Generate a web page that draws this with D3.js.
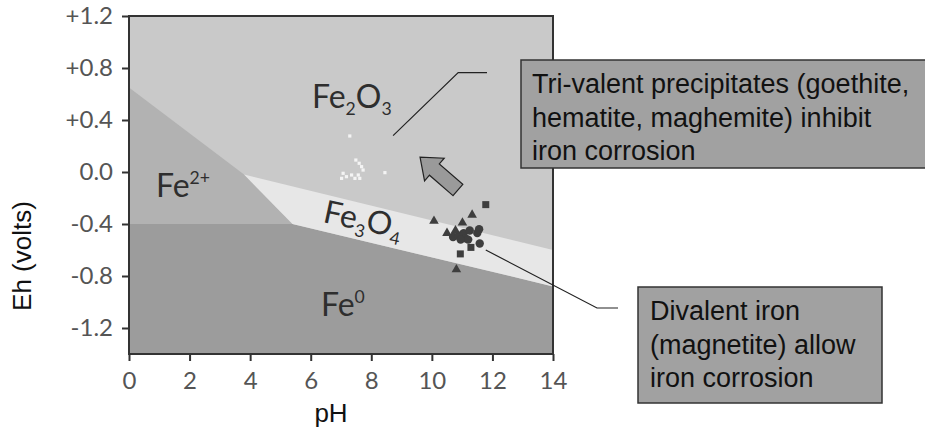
<!DOCTYPE html>
<html><head><meta charset="utf-8">
<script src="https://cdn.jsdelivr.net/npm/d3@7"></script>
<style>html,body{margin:0;padding:0;background:#fff;}svg{display:block;}</style>
</head><body>
<svg id="c" width="925" height="443"></svg>
<script>
// ---- data ----
const phTicks = [0, 2, 4, 6, 8, 10, 12, 14];
const ehTicks = [1.2, 0.8, 0.4, 0.0, -0.4, -0.8, -1.2];
const ehTickLabels = ["+1.2", "+0.8", "+0.4", "0.0", "-0.4", "-0.8", "-1.2"];

// stability field boundaries [pH, Eh]
const fe2plusField = [[0, 0.65], [3.8, -0.02], [5.4, -0.4], [0, -0.4]];
const fe0Field = [[0, -0.4], [5.4, -0.4], [14, -0.88], [14, -1.4], [0, -1.4]];
const fe3o4Field = [[3.8, -0.02], [14, -0.6], [14, -0.88], [5.4, -0.4]];

// measured points
const whitePH = [7.29, 7.49, 7.60, 7.68, 7.73, 7.07, 7.18, 7.35, 7.46, 7.57, 7.62, 7.02, 8.45];
const whiteEh = [0.277, 0.092, 0.067, 0.041, 0.015, -0.01, -0.036, -0.023, -0.049, -0.023, -0.049, -0.049, -0.005];
const triPH = [10.07, 11.33, 11.01, 10.50, 10.81, 10.78];
const triEh = [-0.377, -0.33, -0.39, -0.47, -0.75, -0.45];
const sqPH = [11.78, 11.29, 10.94];
const sqEh = [-0.251, -0.58, -0.63];
const circPH = [11.56, 11.58, 11.50, 10.70, 10.88, 11.05, 11.10, 11.20, 10.95, 11.25];
const circEh = [-0.44, -0.55, -0.47, -0.50, -0.49, -0.47, -0.51, -0.52, -0.52, -0.45];

const callout1 = ["Tri-valent precipitates (goethite,", "hematite, maghemite) inhibit", "iron corrosion"];
const callout2 = ["Divalent iron", "(magnetite) allow", "iron corrosion"];

// ---- drawing ----
const svg = d3.select("#c");
const x = d3.scaleLinear().domain([0, 14]).range([129, 553]);
const y = d3.scaleLinear().domain([-1.4, 1.2]).range([354, 16]);
const line = d3.line().x(d => x(d[0])).y(d => y(d[1]));
const labelFont = "Lato, 'DejaVu Sans', sans-serif";
const textFont = "'Liberation Sans', Arial, sans-serif";

// background field (Fe2O3)
svg.append("rect").attr("x", x(0)).attr("y", y(1.2))
  .attr("width", x(14) - x(0)).attr("height", y(-1.4) - y(1.2)).attr("fill", "#c9c9c9");
svg.append("path").attr("d", line(fe2plusField) + "Z").attr("fill", "#b2b2b2");
svg.append("path").attr("d", line(fe0Field) + "Z").attr("fill", "#9c9c9c");
svg.append("path").attr("d", line(fe3o4Field) + "Z").attr("fill", "#e7e7e7");

// field labels
function chem(parts, px, py, size, rot) {
  const t = svg.append("text").attr("x", px).attr("y", py)
    .attr("font-family", labelFont).attr("font-size", size).attr("fill", "#2e2e2e");
  if (rot) t.attr("transform", `rotate(${rot},${px},${py})`);
  parts.forEach(p => {
    const ts = t.append("tspan").text(p[0]);
    if (p[1] === "sub") ts.attr("font-size", size * 0.55).attr("dy", size * 0.22);
    else if (p[1] === "sup") ts.attr("font-size", size * 0.55).attr("dy", -size * 0.42);
    else if (p[1] === "back") ts.attr("dy", p[2]);
  });
}
chem([["Fe"], ["2", "sub"], ["O", "back", -32 * 0.22], ["3", "sub"]], 312, 108, 32);
chem([["Fe"], ["2+", "sup"]], 156, 197, 32);
chem([["Fe"], ["3", "sub"], ["O", "back", -32 * 0.22], ["4", "sub"]], 322, 222, 32, 12);
chem([["Fe"], ["0", "sup"]], 321, 316, 32);

// points
const white = whitePH.map((p, i) => [p, whiteEh[i]]);
svg.selectAll("rect.w").data(white).join("rect").attr("class", "w")
  .attr("x", d => x(d[0]) - 1.6).attr("y", d => y(d[1]) - 1.6)
  .attr("width", 3.2).attr("height", 3.2).attr("fill", "#f4f4f4");
const dark = "#3e3e3e";
const circ = circPH.map((p, i) => [p, circEh[i]]);
svg.selectAll("circle.c").data(circ).join("circle").attr("class", "c")
  .attr("cx", d => x(d[0])).attr("cy", d => y(d[1])).attr("r", 4.2).attr("fill", dark);
const tri = triPH.map((p, i) => [p, triEh[i]]);
svg.selectAll("path.t").data(tri).join("path").attr("class", "t")
  .attr("d", d3.symbol(d3.symbolTriangle, 40))
  .attr("transform", d => `translate(${x(d[0])},${y(d[1])})`).attr("fill", dark);
const sq = sqPH.map((p, i) => [p, sqEh[i]]);
svg.selectAll("rect.s").data(sq).join("rect").attr("class", "s")
  .attr("x", d => x(d[0]) - 3.5).attr("y", d => y(d[1]) - 3.5)
  .attr("width", 7).attr("height", 7).attr("fill", dark);

// frame
svg.append("rect").attr("x", x(0)).attr("y", y(1.2))
  .attr("width", x(14) - x(0)).attr("height", y(-1.4) - y(1.2))
  .attr("fill", "none").attr("stroke", "#333").attr("stroke-width", 2);

// axes
const ax = svg.append("g").attr("transform", `translate(0,${y(-1.4)})`)
  .call(d3.axisBottom(x).tickValues(phTicks).tickSize(7).tickPadding(11).tickFormat(d3.format("d")));
const ay = svg.append("g").attr("transform", `translate(${x(0)},0)`)
  .call(d3.axisLeft(y).tickValues(ehTicks).tickSize(7).tickPadding(9)
    .tickFormat((d, i) => ehTickLabels[i]));
[ax, ay].forEach(g => {
  g.select(".domain").remove();
  g.selectAll(".tick line").attr("stroke", "#333").attr("stroke-width", 2);
  g.selectAll(".tick text").attr("font-family", labelFont).attr("font-size", 24).attr("fill", "#555");
});

// axis titles
svg.append("text").attr("x", 331).attr("y", 422).attr("text-anchor", "middle")
  .attr("font-family", textFont).attr("font-size", 26).attr("fill", "#111").text("pH");
svg.append("text").attr("transform", "translate(31,256) rotate(-90)").attr("text-anchor", "middle")
  .attr("font-family", textFont).attr("font-size", 26).attr("fill", "#111").text("Eh (volts)");

// block arrow (tail -> tip in data units)
const arrowTail = [10.86, -0.138], arrowTip = [9.61, 0.115];
(function () {
  const tx = x(arrowTail[0]), ty = y(arrowTail[1]), hx = x(arrowTip[0]), hy = y(arrowTip[1]);
  const L = Math.hypot(hx - tx, hy - ty), ang = Math.atan2(hy - ty, hx - tx) * 180 / Math.PI;
  const sw = 7.5, hw = 15, hl = 19;
  const pts = [[0, -sw], [L - hl, -sw], [L - hl, -hw], [L, 0], [L - hl, hw], [L - hl, sw], [0, sw]];
  svg.append("path").attr("d", "M" + pts.map(p => p.join(",")).join("L") + "Z")
    .attr("transform", `translate(${tx},${ty}) rotate(${ang})`)
    .attr("fill", "#9a9a9a").attr("stroke", "#222").attr("stroke-width", 1.2);
})();

// leader lines
const lead1 = [[8.72, 0.28], [10.87, 0.765]];
const lead2 = [[11.78, -0.60]];
svg.append("path").attr("d", `M${x(lead1[0][0])},${y(lead1[0][1])}L${x(lead1[1][0])},${y(lead1[1][1])}H487`)
  .attr("fill", "none").attr("stroke", "#222").attr("stroke-width", 1.2);
svg.append("path").attr("d", `M${x(lead2[0][0])},${y(lead2[0][1])}L597,308H618`)
  .attr("fill", "none").attr("stroke", "#222").attr("stroke-width", 1.2);

// callout boxes
function callout(lines, bx, by, bw, bh, tx0, ty0) {
  svg.append("rect").attr("x", bx).attr("y", by).attr("width", bw).attr("height", bh)
    .attr("fill", "#a1a1a1").attr("stroke", "#333").attr("stroke-width", 1.5);
  const t = svg.append("text").attr("font-family", textFont).attr("font-size", 27).attr("fill", "#111");
  lines.forEach((s, i) => t.append("tspan").attr("x", tx0).attr("y", ty0 + i * 33.5).text(s));
}
callout(callout1, 521, 60, 420, 108, 532, 93);
callout(callout2, 638, 287, 244, 116, 650, 320);
</script>
</body></html>
